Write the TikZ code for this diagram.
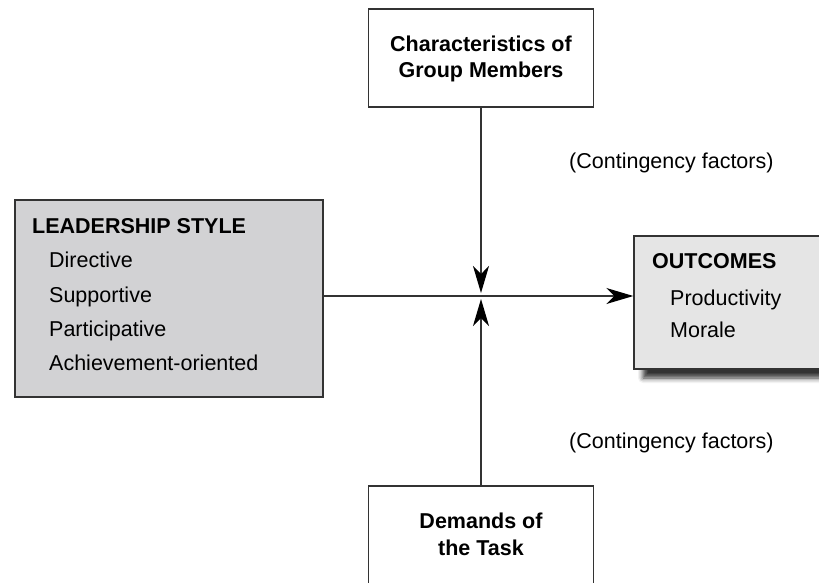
\documentclass[tikz,border=0pt]{standalone}
\usepackage{fontspec}
\setmainfont{Liberation Sans}
\usetikzlibrary{arrows.meta,shadows.blur}

\definecolor{edgegray}{HTML}{333333}
\definecolor{stylefill}{HTML}{D2D2D4}
\definecolor{outfill}{HTML}{E5E5E5}

\tikzset{
  box/.style={draw=edgegray, line width=1.4pt, rectangle, inner sep=0pt},
  label/.style={inner sep=0pt, anchor=base west, font=\fontsize{21.5}{26}\selectfont},
  boldlabel/.style={label, font=\fontsize{21.5}{26}\selectfont\bfseries},
  centerbold/.style={inner sep=0pt, anchor=base, font=\fontsize{21.5}{26}\selectfont\bfseries},
  conn/.style={draw=edgegray, line width=1.4pt,
    -{Stealth[length=27pt, width=16pt, inset=8pt, color=black]}}
}

\begin{document}
\begin{tikzpicture}[x=1pt, y=-1pt]
  \useasboundingbox (0,0) rectangle (819,582);
  \clip (0,0) rectangle (819,582);

  % boxes
  \node[box, fill=white, minimum width=225pt, minimum height=98pt] (members) at (481,58) {};
  \node[box, fill=stylefill, minimum width=308pt, minimum height=197pt] (style) at (169,298.5) {};
  \node[box, fill=outfill, minimum width=200pt, minimum height=133pt,
        blur shadow={shadow xshift=9pt, shadow yshift=-9pt, shadow blur radius=5pt,
                     shadow opacity=80}] (outcomes) at (734,302.5) {};
  \node[box, fill=white, minimum width=225pt, minimum height=130pt] (task) at (481,551) {};

  % box texts
  \node[centerbold] (membersA) at (481,51) {Characteristics of};
  \node[centerbold] (membersB) at (481,77) {Group Members};

  \node[centerbold] (taskA) at (481,528) {Demands of};
  \node[centerbold] (taskB) at (481,555) {the Task};

  \node[boldlabel] (styletitle) at (32,233) {LEADERSHIP STYLE};
  \node[label] (s1) at (49,267) {Directive};
  \node[label] (s2) at (49,302) {Supportive};
  \node[label] (s3) at (49,336) {Participative};
  \node[label] (s4) at (49,370) {Achievement-oriented};

  \node[boldlabel] (outtitle) at (652,268) {OUTCOMES};
  \node[label] (o1) at (670,305) {Productivity};
  \node[label] (o2) at (670,337) {Morale};

  \node[label] (cf1) at (569,168) {(Contingency factors)};
  \node[label] (cf2) at (569,448) {(Contingency factors)};

  % connectors meeting at the junction
  \coordinate (junction) at (481,296);
  \coordinate (downtip) at (481,293);
  \coordinate (uptip) at (481,299);

  \draw[conn] (style.east |- junction) -- (outcomes.west |- junction);
  \draw[conn] (members.south) -- (downtip);
  \draw[conn] (task.north) -- (uptip);
\end{tikzpicture}
\end{document}
